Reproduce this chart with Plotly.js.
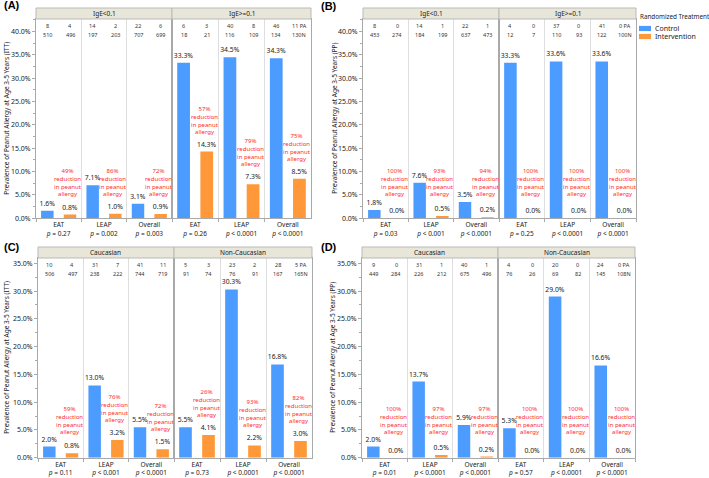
<!DOCTYPE html>
<html><head><meta charset="utf-8">
<script src="https://cdn.plot.ly/plotly-3.0.1.min.js"></script>
<style>html,body{margin:0;padding:0;background:#fff}#chart{width:709px;height:478px}</style>
</head><body><div id="chart"></div>
<script>
// ---------- DATA ----------
const studies = ["EAT", "LEAP", "Overall"];
const seriesNames = ["Control", "Intervention"];
const legendTitle = "Randomized Treatment";
const yTicksIgE = [0, 5, 10, 15, 20, 25, 30, 35, 40];
const yTicksEth = [0, 5, 10, 15, 20, 25, 30, 35];

// Panel A (ITT, by IgE)
const A_facets = ["IgE<0.1", "IgE>=0.1"];
const A_control = [[1.6, 7.1, 3.1], [33.3, 34.5, 34.3]];
const A_interv = [[0.8, 1.0, 0.9], [14.3, 7.3, 8.5]];
const A_paCtrl = [[8, 14, 22], [6, 40, 46]];
const A_paInt = [[4, 2, 6], [3, 8, 11]];
const A_nCtrl = [[510, 197, 707], [18, 116, 134]];
const A_nInt = [[496, 203, 699], [21, 109, 130]];
const A_reduction = [[49, 86, 72], [57, 79, 75]];
const A_p = [["= 0.27", "= 0.002", "= 0.003"], ["= 0.26", "< 0.0001", "< 0.0001"]];

// Panel B (PP, by IgE)
const B_facets = ["IgE<0.1", "IgE>=0.1"];
const B_control = [[1.8, 7.6, 3.5], [33.3, 33.6, 33.6]];
const B_interv = [[0.0, 0.5, 0.2], [0.0, 0.0, 0.0]];
const B_paCtrl = [[8, 14, 22], [4, 37, 41]];
const B_paInt = [[0, 1, 1], [0, 0, 0]];
const B_nCtrl = [[453, 184, 637], [12, 110, 122]];
const B_nInt = [[274, 199, 473], [7, 93, 100]];
const B_reduction = [[100, 93, 94], [100, 100, 100]];
const B_p = [["= 0.03", "< 0.001", "< 0.0001"], ["= 0.25", "< 0.0001", "< 0.0001"]];

// Panel C (ITT, by ethnicity)
const C_facets = ["Caucasian", "Non-Caucasian"];
const C_control = [[2.0, 13.0, 5.5], [5.5, 30.3, 16.8]];
const C_interv = [[0.8, 3.2, 1.5], [4.1, 2.2, 3.0]];
const C_paCtrl = [[10, 31, 41], [5, 23, 28]];
const C_paInt = [[4, 7, 11], [3, 2, 5]];
const C_nCtrl = [[506, 238, 744], [91, 76, 167]];
const C_nInt = [[497, 222, 719], [74, 91, 165]];
const C_reduction = [[59, 76, 72], [26, 93, 82]];
const C_p = [["= 0.11", "< 0.001", "< 0.0001"], ["= 0.73", "< 0.0001", "< 0.0001"]];

// Panel D (PP, by ethnicity)
const D_facets = ["Caucasian", "Non-Caucasian"];
const D_control = [[2.0, 13.7, 5.9], [5.3, 29.0, 16.6]];
const D_interv = [[0.0, 0.5, 0.2], [0.0, 0.0, 0.0]];
const D_paCtrl = [[9, 31, 40], [4, 20, 24]];
const D_paInt = [[0, 1, 1], [0, 0, 0]];
const D_nCtrl = [[449, 226, 675], [76, 69, 145]];
const D_nInt = [[284, 212, 496], [26, 82, 108]];
const D_reduction = [[100, 97, 97], [100, 100, 100]];
const D_p = [["= 0.01", "< 0.0001", "< 0.0001"], ["= 0.57", "< 0.0001", "< 0.0001"]];

// ---------- LAYOUT / STYLE ----------
const W = 709, H = 478;
const FONT = "Noto Sans, Open Sans, sans-serif";
const BLUE = "#4c9bff", ORANGE = "#ff9838", RED = "#ff2b2b";
const FRAME = "#a9a9a9", GRID = "#dedede", TXT = "#222";
const colors = [BLUE, ORANGE];

const panels = [
  {label: "(A)", ytitle: "Prevalence of Peanut Allergy at Age 3-5 Years (ITT)", facets: A_facets,
   ctrl: A_control, int: A_interv, paC: A_paCtrl, paI: A_paInt, nC: A_nCtrl, nI: A_nInt, red: A_reduction, p: A_p,
   xs: [36, 172, 311], yt: 19, yb: 218.3, ht: 8, ymax: 42.7, ticks: yTicksIgE, lx: 2, ly: 5, tx: 7},
  {label: "(B)", ytitle: "Prevalence of Peanut Allergy at Age 3-5 Years (PP)", facets: B_facets,
   ctrl: B_control, int: B_interv, paC: B_paCtrl, paI: B_paInt, nC: B_nCtrl, nI: B_nInt, red: B_reduction, p: B_p,
   xs: [363, 499, 636], yt: 19, yb: 218.3, ht: 8, ymax: 42.7, ticks: yTicksIgE, lx: 319, ly: 6, tx: 335},
  {label: "(C)", ytitle: "Prevalence of Peanut Allergy at Age 3-5 Years (ITT)", facets: C_facets,
   ctrl: C_control, int: C_interv, paC: C_paCtrl, paI: C_paInt, nC: C_nCtrl, nI: C_nInt, red: C_reduction, p: C_p,
   xs: [38, 174, 312], yt: 258, yb: 457.7, ht: 247, ymax: 35.95, ticks: yTicksEth, lx: 2, ly: 247, tx: 7},
  {label: "(D)", ytitle: "Prevalence of Peanut Allergy at Age 3-5 Years (PP)", facets: D_facets,
   ctrl: D_control, int: D_interv, paC: D_paCtrl, paI: D_paInt, nC: D_nCtrl, nI: D_nInt, red: D_reduction, p: D_p,
   xs: [362, 498, 635], yt: 258, yb: 457.7, ht: 247, ymax: 35.95, ticks: yTicksEth, lx: 319, ly: 247, tx: 333}
];

const data = [], annotations = [], shapes = [];
const layout = {
  width: W, height: H,
  margin: {l: 0, r: 0, t: 0, b: 0, autoexpand: false},
  paper_bgcolor: "#fff", plot_bgcolor: "#fff",
  font: {family: FONT, size: 7, color: TXT},
  barmode: "group", bargap: 0, bargroupgap: 0.45,
  showlegend: false,
  annotations: annotations, shapes: shapes
};

// compact legend (keys + labels, like the reference)
const LX = 639, LY = 17;
annotations.push({text: legendTitle, xref: "paper", yref: "paper", x: (LX - 1) / W, y: 1 - LY / H,
  xanchor: "left", yanchor: "middle", showarrow: false, font: {size: 6.3, color: TXT}});
seriesNames.forEach((nm, si) => {
  const cy = 28.5 + si * 8;
  shapes.push({type: "rect", xref: "paper", yref: "paper", x0: LX / W, x1: (LX + 12) / W,
    y0: 1 - (cy + 2.6) / H, y1: 1 - (cy - 2.6) / H, fillcolor: colors[si], line: {width: 0}});
  annotations.push({text: nm, xref: "paper", yref: "paper", x: (LX + 14) / W, y: 1 - cy / H,
    xanchor: "left", yanchor: "middle", showarrow: false, font: {size: 7, color: TXT}});
});

let k = 0;
panels.forEach((P) => {
  annotations.push({text: "<b>" + P.label + "</b>", xref: "paper", yref: "paper", x: P.lx / W, y: 1 - P.ly / H,
    xanchor: "left", yanchor: "middle", showarrow: false, font: {family: "Liberation Sans, Arial, sans-serif", size: 11, color: "#000"}});
  annotations.push({text: P.ytitle, xref: "paper", yref: "paper", x: P.tx / W, y: 1 - ((P.yt + P.yb) / 2) / H,
    xanchor: "center", yanchor: "middle", textangle: -90, showarrow: false, font: {size: 6.5, color: TXT}});

  P.facets.forEach((fname, fi) => {
    k++;
    const sfx = k === 1 ? "" : String(k);
    const xid = "x" + sfx, yid = "y" + sfx;
    const x0 = P.xs[fi], x1 = P.xs[fi + 1];
    layout["xaxis" + sfx] = {
      domain: [x0 / W, x1 / W], anchor: yid, type: "category", categoryorder: "array", categoryarray: studies,
      range: [-0.5, studies.length - 0.5], fixedrange: true,
      tickmode: "array", tickvals: studies,
      ticktext: studies.map((s, j) => s + "<br><i>p</i> " + P.p[fi][j]),
      tickson: "boundaries", ticks: "outside", ticklen: 3, tickcolor: FRAME,
      showgrid: true, gridcolor: GRID, gridwidth: 1,
      showline: true, mirror: true, linecolor: FRAME, linewidth: 1, zeroline: false,
      tickfont: {size: 6.5, color: TXT}
    };
    layout["yaxis" + sfx] = {
      domain: [1 - P.yb / H, 1 - P.yt / H], anchor: xid, range: [0, P.ymax], fixedrange: true,
      tickmode: "array", tickvals: P.ticks, ticktext: P.ticks.map(v => v.toFixed(1) + "%"),
      showticklabels: fi === 0, ticks: fi === 0 ? "outside" : "", ticklen: 3, tickcolor: FRAME,
      minor: fi === 0 ? {tickmode: "linear", tick0: 0, dtick: 2.5, ticks: "outside", ticklen: 2, tickcolor: FRAME, showgrid: false} : {ticks: ""},
      showgrid: false, zeroline: false, showline: true, mirror: true, linecolor: FRAME, linewidth: 1,
      tickfont: {size: 7, color: TXT}
    };
    shapes.push({type: "rect", xref: "paper", yref: "paper", x0: x0 / W, x1: x1 / W, y0: 1 - P.yt / H, y1: 1 - P.ht / H,
      fillcolor: "#e8e6d9", line: {color: "#b9b9b9", width: 1}});
    annotations.push({text: fname, xref: "paper", yref: "paper", x: ((x0 + x1) / 2) / W, y: 1 - ((P.ht + P.yt) / 2) / H,
      xanchor: "center", yanchor: "middle", showarrow: false, font: {size: 6.5, color: TXT}});

    const series = [P.ctrl[fi], P.int[fi]];
    series.forEach((vals, si) => {
      data.push({type: "bar", name: seriesNames[si], x: studies, y: vals, xaxis: xid, yaxis: yid,
        marker: {color: colors[si], line: {width: 0}}, legendgroup: seriesNames[si], showlegend: false,
        texttemplate: "%{y:.1f}%", textposition: "outside", cliponaxis: false, constraintext: "none",
        textfont: {size: 6.8, color: TXT}, hoverinfo: "skip"});
    });

    const last = fi === P.facets.length - 1;
    studies.forEach((s, j) => {
      const off = 0.25; // half of a group (bargap 0, 2 bars)
      const rows = [[P.paC[fi][j], P.paI[fi][j], 0.963, " PA"], [P.nC[fi][j], P.nI[fi][j], 0.918, "N"]];
      rows.forEach(r => {
        annotations.push({text: String(r[0]), xref: xid, yref: yid + " domain", x: j - off, y: r[2],
          showarrow: false, xanchor: "center", yanchor: "middle", font: {size: 5.5, color: "#333"}});
        annotations.push({text: String(r[1]) + (last && j === studies.length - 1 ? r[3] : ""), xref: xid, yref: yid + " domain", x: j + off, y: r[2],
          showarrow: false, xanchor: "center", yanchor: "middle", font: {size: 5.5, color: "#333"}});
      });
      annotations.push({text: P.red[fi][j] + "%<br>reduction<br>in peanut<br>allergy", xref: xid, yref: yid,
        x: j + off, y: Math.max(P.int[fi][j], 1), yanchor: "bottom", xanchor: "center", yshift: 14, xshift: -2,
        showarrow: false, font: {size: 6, color: RED}});
    });
  });
});

Plotly.newPlot("chart", data, layout, {staticPlot: true, displayModeBar: false});
</script></body></html>
